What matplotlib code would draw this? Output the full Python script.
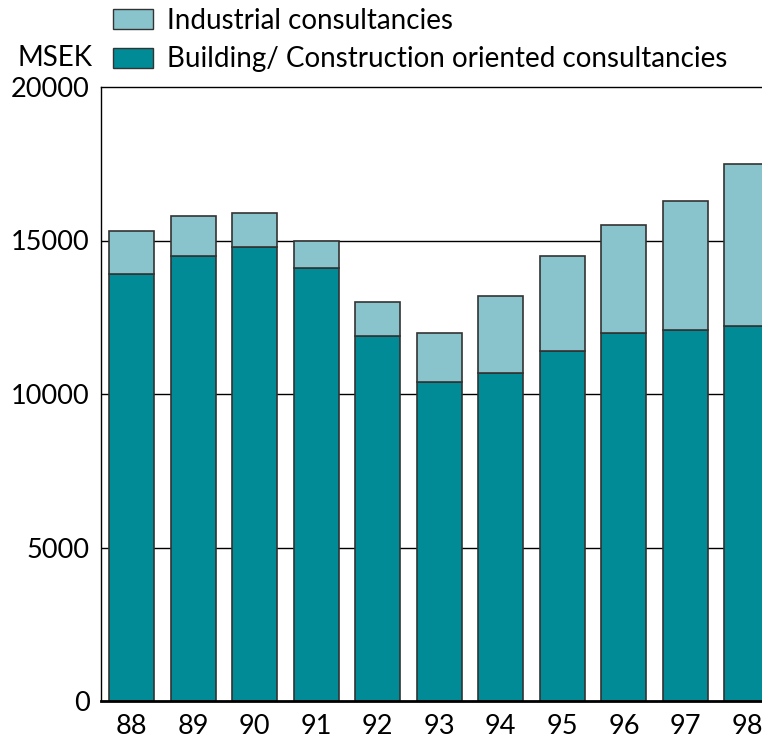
import matplotlib
matplotlib.use("Agg")
import matplotlib.pyplot as plt
from matplotlib.patches import Patch

years = ["88", "89", "90", "91", "92", "93", "94", "95", "96", "97", "98"]
building = [13900, 14500, 14800, 14100, 11900, 10400, 10700, 11400, 12000, 12100, 12200]
total = [15300, 15800, 15900, 15000, 13000, 12000, 13200, 14500, 15500, 16300, 17500]
industrial = [t - b for t, b in zip(total, building)]
yticks = [0, 5000, 10000, 15000, 20000]

plt.rcParams['font.family'] = ['Lato', 'DejaVu Sans']

dark = "#008b96"
light = "#89c4cc"
edge = "#333333"

fig = plt.figure(figsize=(7.62, 7.42), dpi=100)
ax = fig.add_axes([101/762, 1 - 701/742, 1 - 101/762, (701 - 87)/742])

x = [88 + i for i in range(len(years))]
for yv in yticks[1:-1]:
    ax.axhline(yv, color="black", lw=1, zorder=0)
ax.bar(x, building, width=0.73, color=dark, edgecolor=edge, lw=1.2, zorder=2,
       label="Building/ Construction oriented consultancies")
ax.bar(x, industrial, width=0.73, bottom=building, color=light, edgecolor=edge, lw=1.2, zorder=2,
       label="Industrial consultancies")

ax.set_xlim(87.5, 98.245)
ax.set_ylim(0, 20000)
ax.set_xticks(x)
ax.set_xticklabels(years)
ax.set_yticks(yticks)
ax.set_yticklabels([str(v) for v in yticks])
ax.tick_params(axis='both', length=0, labelsize=19.5, pad=8)
ax.tick_params(axis='x', pad=9)
ax.spines['right'].set_visible(False)
ax.spines['top'].set_linewidth(1)
ax.spines['left'].set_linewidth(1)
ax.spines['bottom'].set_linewidth(2)

handles = [Patch(facecolor=light, edgecolor=edge, lw=1),
           Patch(facecolor=dark, edgecolor=edge, lw=1)]
labels = ["Industrial consultancies", "Building/ Construction oriented consultancies"]
fig.legend(handles, labels, loc='upper left', bbox_to_anchor=(113/762, 1 - 8/742),
           frameon=False, fontsize=20, handlelength=1.44, handleheight=0.75,
           handletextpad=0.5, labelspacing=0.45, borderaxespad=0, borderpad=0)
fig.text(18/762, 1 - 58/742, "MSEK", fontsize=20, va='center', ha='left')

fig.savefig("out.png", dpi=100)
